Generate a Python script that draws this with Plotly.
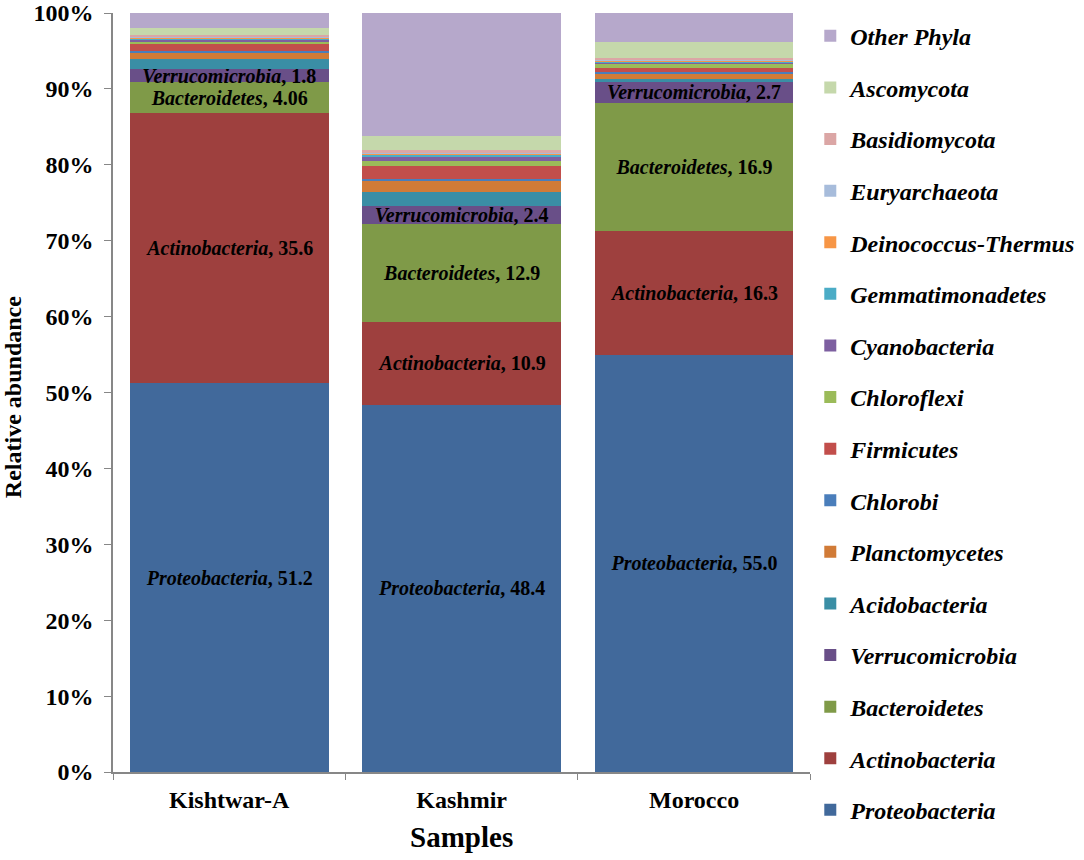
import plotly.graph_objects as go

# samples on the x axis
samples = ["Kishtwar-A", "Kashmir", "Morocco"]

# phyla, bottom of the stack first
phyla = ["Proteobacteria", "Actinobacteria", "Bacteroidetes", "Verrucomicrobia",
         "Acidobacteria", "Planctomycetes", "Chlorobi", "Firmicutes", "Chloroflexi",
         "Cyanobacteria", "Gemmatimonadetes", "Deinococcus-Thermus", "Euryarchaeota",
         "Basidiomycota", "Ascomycota", "Other Phyla"]

# relative abundance (%) per sample, same order as phyla
kishtwar_a = [51.2, 35.6, 4.06, 1.8, 1.27, 0.9, 0.15, 0.9, 0.4,
              0.2, 0.15, 0.1, 0.15, 0.2, 0.9, 2.02]
kashmir = [48.4, 10.9, 12.9, 2.4, 1.8, 1.53, 0.17, 1.75, 0.6,
           0.65, 0.2, 0.15, 0.15, 0.35, 1.8, 16.25]
morocco = [55.0, 16.3, 16.9, 2.7, 0.35, 0.83, 0.1, 0.6, 0.5,
           0.2, 0.15, 0.15, 0.15, 0.1, 2.2, 3.77]

# only the four largest phyla carry a label in each bar
labelled = ["Proteobacteria", "Actinobacteria", "Bacteroidetes", "Verrucomicrobia"]

colors = ["#41699B", "#9E403E", "#7F9A48", "#694F88", "#3A8EA5", "#D17B37",
          "#4A7EBB", "#C24E4B", "#9BBB59", "#7D5FA0", "#4BACC6", "#F79646",
          "#A7BCDB", "#DBA6A5", "#C5D8AB", "#B6A8CB"]

FONT = "Liberation Serif, Times New Roman, serif"

fig = go.Figure()
for i, name in enumerate(phyla):
    vals = [kishtwar_a[i], kashmir[i], morocco[i]]
    if name in labelled:
        txt = [f"<b><i>{name}</i>, {v}</b>" for v in vals]
    else:
        txt = ["" for v in vals]
    fig.add_trace(go.Bar(
        x=samples, y=vals, name=f"<b><i>{name}</i></b>",
        marker=dict(color=colors[i], line=dict(width=0)),
        text=txt, textposition="inside", insidetextanchor="middle",
        textangle=0, constraintext="none",
        textfont=dict(family=FONT, size=20, color="black"),
        legendgroup=name, legendrank=100 - i, hoverinfo="x+y+name",
    ))

axis_line = "#878787"
fig.update_layout(
    barmode="stack", bargap=0.145,
    width=1084, height=860,
    margin=dict(l=113, r=273, t=13, b=88),
    plot_bgcolor="white", paper_bgcolor="white",
    font=dict(family=FONT, color="black"),
    xaxis=dict(
        title=dict(text="<b>Samples</b>", font=dict(size=29), standoff=15),
        tickfont=dict(size=24), showline=True, linecolor=axis_line, linewidth=1.5,
        ticks="outside", tickson="boundaries", ticklen=6, tickcolor=axis_line,
        tickprefix="<b>", ticksuffix="</b>", ticklabelstandoff=5, automargin=False,
    ),
    yaxis=dict(
        tickfont=dict(size=24), range=[0, 100],
        tickvals=list(range(0, 101, 10)),
        ticktext=[f"<b>{v}%</b>" for v in range(0, 101, 10)],
        showline=True, linecolor=axis_line, linewidth=1.5, showgrid=False, zeroline=False,
        ticks="outside", ticklen=7, tickcolor=axis_line, ticklabelstandoff=6,
        automargin=False, ticklabeloverflow="allow",
    ),
    legend=dict(
        xref="container", yref="container",
        x=0.7475, xanchor="left", y=0.984, yanchor="top",
        traceorder="grouped", tracegroupgap=17.4, maxheight=860,
        font=dict(size=24, family=FONT), bgcolor="rgba(0,0,0,0)",
    ),
    showlegend=True,
)

# y-axis title as a rotated annotation so it can sit at the very left edge
fig.add_annotation(
    text="<b>Relative abundance</b>", textangle=-90,
    xref="paper", yref="paper", x=-0.1433, y=0.494,
    xanchor="center", yanchor="middle", showarrow=False,
    font=dict(size=24, family=FONT, color="black"),
)

# drop the browser's default 8px body margin so the figure sits at the page corner
fig.write_html("out.html", config={"displayModeBar": False},
               post_script="document.body.style.margin='0';")
